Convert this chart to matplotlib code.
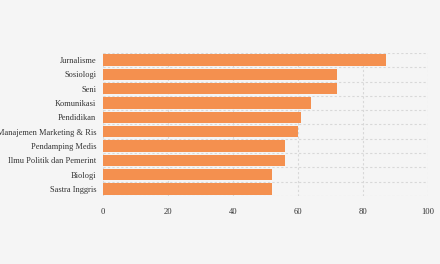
import numpy as np
import matplotlib.pyplot as plt

# data (top to bottom)
categories = ['Jurnalisme', 'Sosiologi', 'Seni', 'Komunikasi', 'Pendidikan',
              'Manajemen Marketing & Ris', 'Pendamping Medis',
              'Ilmu Politik dan Pemerint', 'Biologi', 'Sastra Inggris']
values = [87, 72, 72, 64, 61, 60, 56, 56, 52, 52]
xticks = [0, 20, 40, 60, 80, 100]

bg = '#f5f5f5'
bar_color = '#f4904f'

plt.rcParams['font.family'] = ['Liberation Serif', 'DejaVu Serif']

fig = plt.figure(figsize=(4.4, 2.64), dpi=100, facecolor=bg)
ax = fig.add_axes([103/440, 1 - 196/264, 325/440, 143/264])
ax.set_facecolor(bg)

y = np.arange(len(categories))
ax.barh(y, values, height=0.8, color=bar_color, zorder=2)

ax.set_ylim(len(categories) - 0.5, -0.5)
ax.set_xlim(0, 100)
ax.set_yticks(y)
ax.set_yticklabels(categories, fontsize=6.0, color='#333333')
ax.set_xticks(xticks)
ax.set_xticklabels([str(t) for t in xticks], fontsize=6.2, color='#333333')

# dashed grid: vertical at ticks, horizontal at band edges
ax.set_yticks(np.arange(len(categories) + 1) - 0.5, minor=True)
ax.grid(axis='x', which='major', linestyle=(0, (2, 2)), color='#d8d8d8', linewidth=0.8, zorder=1)
ax.grid(axis='y', which='minor', linestyle=(0, (2, 2)), color='#d8d8d8', linewidth=0.8, zorder=1)
ax.tick_params(axis='both', which='both', length=0)
ax.tick_params(axis='y', pad=5)
ax.tick_params(axis='x', pad=9)

for s in ax.spines.values():
    s.set_visible(False)

fig.savefig('out.png', dpi=100, facecolor=bg)
